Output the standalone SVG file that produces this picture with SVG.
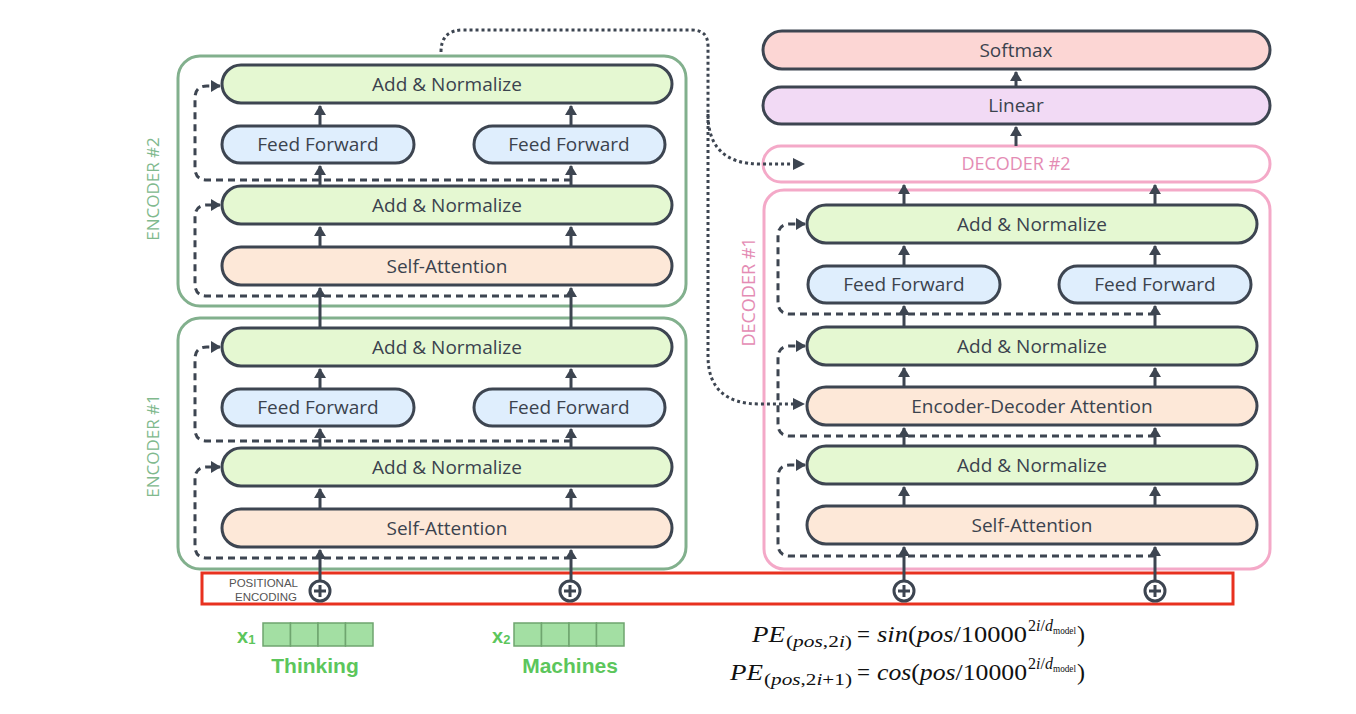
<svg xmlns="http://www.w3.org/2000/svg" width="1356" height="714" viewBox="0 0 1356 714">
<defs>
<style>
.n{stroke:#3d4551;stroke-width:3}
.an{fill:#e5f8d2}
.ff{fill:#dfeefd}
.sa{fill:#fde8d8}
.t{font-family:"Open Sans","Liberation Sans",sans-serif;font-size:19px;font-weight:500;fill:#3b434e;text-anchor:middle}
.enc{fill:none;stroke:#82b08d;stroke-width:3}
.dec{fill:none;stroke:#f4a9c8;stroke-width:3}
.encl{font-family:"Open Sans","Liberation Sans",sans-serif;font-size:17px;font-weight:500;fill:#80b98d;text-anchor:middle}
.decl{font-family:"Open Sans","Liberation Sans",sans-serif;font-size:18px;font-weight:500;fill:#e48cb4;text-anchor:middle}
.ar{stroke:#3d4551;stroke-width:3;fill:none;marker-end:url(#ah)}
.ds{stroke:#3d4551;stroke-width:3;fill:none;stroke-dasharray:7 5;marker-end:url(#ah)}
.dt{stroke:#3d4551;stroke-width:3;fill:none;stroke-dasharray:3 3}
.pl{fill:#fff;stroke:#3d4551;stroke-width:3}
.m{font-family:"Liberation Serif","DejaVu Serif",serif;font-size:24px;fill:#111}
.s{font-family:"Liberation Serif","DejaVu Serif",serif;font-size:17px;fill:#111}
.ss{font-family:"Liberation Serif","DejaVu Serif",serif;font-size:10px;fill:#111}
.i{font-style:italic}
.cell{fill:#a3dfa3;stroke:#6fa56f;stroke-width:1.5}
.g{font-family:"Liberation Sans",Arial,sans-serif;font-weight:bold;fill:#5cc65c}
.pe{font-family:"Liberation Sans",Arial,sans-serif;font-size:11.5px;fill:#555;text-anchor:end}
</style>
<marker id="ah" viewBox="0 0 10 12" refX="9" refY="6" markerWidth="10" markerHeight="12" orient="auto" markerUnits="userSpaceOnUse">
<path d="M0,0 L10,6 L0,12 z" fill="#3d4551"/>
</marker>
</defs>
<rect width="1356" height="714" fill="#fff"/>

<!-- Encoder 2 -->
<g id="encoder2">
<rect class="enc" x="178" y="56" width="508" height="250" rx="22"/>
<text class="encl" transform="translate(159,189) rotate(-90)">ENCODER #2</text>
</g>
<g id="e2-addnorm2"><rect class="n an" x="222" y="65" width="450" height="38" rx="19"/><text class="t" x="447" y="91">Add &amp; Normalize</text></g>
<g id="e2-ff1"><rect class="n ff" x="222" y="126" width="192" height="37" rx="18.5"/><text class="t" x="318" y="151">Feed Forward</text></g>
<g id="e2-ff2"><rect class="n ff" x="474" y="126" width="191" height="37" rx="18.5"/><text class="t" x="569" y="151">Feed Forward</text></g>
<g id="e2-addnorm1"><rect class="n an" x="222" y="186" width="450" height="38" rx="19"/><text class="t" x="447" y="212">Add &amp; Normalize</text></g>
<g id="e2-selfatt"><rect class="n sa" x="222" y="247" width="450" height="38" rx="19"/><text class="t" x="447" y="273">Self-Attention</text></g>

<!-- Encoder 1 -->
<g id="encoder1">
<rect class="enc" x="178" y="318" width="508" height="251" rx="22"/>
<text class="encl" transform="translate(159,446) rotate(-90)">ENCODER #1</text>
</g>
<g id="e1-addnorm2"><rect class="n an" x="222" y="328" width="450" height="38" rx="19"/><text class="t" x="447" y="354">Add &amp; Normalize</text></g>
<g id="e1-ff1"><rect class="n ff" x="222" y="389" width="192" height="37" rx="18.5"/><text class="t" x="318" y="414">Feed Forward</text></g>
<g id="e1-ff2"><rect class="n ff" x="474" y="389" width="191" height="37" rx="18.5"/><text class="t" x="569" y="414">Feed Forward</text></g>
<g id="e1-addnorm1"><rect class="n an" x="222" y="448" width="450" height="38" rx="19"/><text class="t" x="447" y="474">Add &amp; Normalize</text></g>
<g id="e1-selfatt"><rect class="n sa" x="222" y="509" width="450" height="38" rx="19"/><text class="t" x="447" y="535">Self-Attention</text></g>

<!-- Decoder side -->
<g id="softmax"><rect class="n" fill="#fcd6d4" x="763" y="31" width="507" height="38" rx="19"/><text class="t" x="1016" y="57">Softmax</text></g>
<g id="linear"><rect class="n" fill="#f2daf5" x="763" y="87" width="507" height="37" rx="18.5"/><text class="t" x="1016" y="112">Linear</text></g>
<g id="decoder2"><rect class="dec" fill="#fff" x="763" y="146" width="507" height="36" rx="18"/><text class="decl" x="1016" y="170">DECODER #2</text></g>
<g id="decoder1">
<rect class="dec" x="764" y="190" width="506" height="379" rx="20"/>
<text class="decl" transform="translate(755,292) rotate(-90)">DECODER #1</text>
</g>
<g id="d1-addnorm3"><rect class="n an" x="807" y="205" width="450" height="38" rx="19"/><text class="t" x="1032" y="231">Add &amp; Normalize</text></g>
<g id="d1-ff1"><rect class="n ff" x="808" y="266" width="192" height="37" rx="18.5"/><text class="t" x="904" y="291">Feed Forward</text></g>
<g id="d1-ff2"><rect class="n ff" x="1059" y="266" width="192" height="37" rx="18.5"/><text class="t" x="1155" y="291">Feed Forward</text></g>
<g id="d1-addnorm2"><rect class="n an" x="807" y="327" width="450" height="38" rx="19"/><text class="t" x="1032" y="353">Add &amp; Normalize</text></g>
<g id="d1-encdec"><rect class="n sa" x="807" y="387" width="450" height="38" rx="19"/><text class="t" x="1032" y="413">Encoder-Decoder Attention</text></g>
<g id="d1-addnorm1"><rect class="n an" x="807" y="446" width="450" height="38" rx="19"/><text class="t" x="1032" y="472">Add &amp; Normalize</text></g>
<g id="d1-selfatt"><rect class="n sa" x="807" y="506" width="450" height="38" rx="19"/><text class="t" x="1032" y="532">Self-Attention</text></g>

<!-- Positional encoding -->
<g id="positional-encoding">
<rect x="202" y="573" width="1031" height="31" fill="none" stroke="#e8311f" stroke-width="3"/>
<text class="pe" x="298" y="587">POSITIONAL</text>
<text class="pe" x="297" y="601">ENCODING</text>
<circle class="pl" cx="320" cy="591" r="10"/><path d="M314,591h12M320,585v12" stroke="#3d4551" stroke-width="3"/>
<circle class="pl" cx="570" cy="591" r="10"/><path d="M564,591h12M570,585v12" stroke="#3d4551" stroke-width="3"/>
<circle class="pl" cx="904" cy="591" r="10"/><path d="M898,591h12M904,585v12" stroke="#3d4551" stroke-width="3"/>
<circle class="pl" cx="1155" cy="591" r="10"/><path d="M1149,591h12M1155,585v12" stroke="#3d4551" stroke-width="3"/>
</g>

<!-- Inputs -->
<g id="input-x1">
<text class="g" x="237" y="643" font-size="20">x<tspan font-size="13" dy="1">1</tspan></text>
<rect class="cell" x="263" y="623" width="27.5" height="23"/><rect class="cell" x="290.5" y="623" width="27.5" height="23"/><rect class="cell" x="318" y="623" width="27.5" height="23"/><rect class="cell" x="345.5" y="623" width="27.5" height="23"/>
<text class="g" x="315" y="673" font-size="21" text-anchor="middle">Thinking</text>
</g>
<g id="input-x2">
<text class="g" x="492" y="643" font-size="20">x<tspan font-size="13" dy="1">2</tspan></text>
<rect class="cell" x="514" y="623" width="27.5" height="23"/><rect class="cell" x="541.5" y="623" width="27.5" height="23"/><rect class="cell" x="569" y="623" width="27.5" height="23"/><rect class="cell" x="596.5" y="623" width="27.5" height="23"/>
<text class="g" x="570" y="673" font-size="21" text-anchor="middle">Machines</text>
</g>

<!-- Formula -->
<g id="formula">
<text class="m i" x="752" y="642" textLength="33" lengthAdjust="spacingAndGlyphs">PE</text>
<text class="s" x="786" y="647" textLength="66" lengthAdjust="spacingAndGlyphs">(<tspan class="i">pos</tspan>,2<tspan class="i">i</tspan>)</text>
<text class="m" x="857" y="642" textLength="13" lengthAdjust="spacingAndGlyphs">=</text>
<text class="m" x="877" y="642" textLength="150" lengthAdjust="spacingAndGlyphs"><tspan class="i">sin</tspan>(<tspan class="i">pos</tspan>/10000</text>
<text class="s" x="1028" y="631" textLength="25" lengthAdjust="spacingAndGlyphs">2<tspan class="i">i</tspan>/<tspan class="i">d</tspan></text>
<text class="ss" x="1053" y="634" textLength="23" lengthAdjust="spacingAndGlyphs">model</text>
<text class="m" x="1077" y="642">)</text>

<text class="m i" x="730" y="680" textLength="33" lengthAdjust="spacingAndGlyphs">PE</text>
<text class="s" x="764" y="685" textLength="88" lengthAdjust="spacingAndGlyphs">(<tspan class="i">pos</tspan>,2<tspan class="i">i</tspan>+1)</text>
<text class="m" x="857" y="680" textLength="13" lengthAdjust="spacingAndGlyphs">=</text>
<text class="m" x="877" y="680" textLength="150" lengthAdjust="spacingAndGlyphs"><tspan class="i">cos</tspan>(<tspan class="i">pos</tspan>/10000</text>
<text class="s" x="1028" y="669" textLength="25" lengthAdjust="spacingAndGlyphs">2<tspan class="i">i</tspan>/<tspan class="i">d</tspan></text>
<text class="ss" x="1053" y="672" textLength="23" lengthAdjust="spacingAndGlyphs">model</text>
<text class="m" x="1077" y="680">)</text>
</g>

<!-- Connectors -->
<g id="connectors">
<!-- encoder solid arrows -->
<path class="ar" d="M320,581V550"/><path class="ar" d="M571,581V550"/>
<path class="ar" d="M320,509V489"/><path class="ar" d="M571,509V489"/>
<path class="ar" d="M320,448V429"/><path class="ar" d="M571,448V429"/>
<path class="ar" d="M320,389V369"/><path class="ar" d="M571,389V369"/>
<path class="ar" d="M320,328V288"/><path class="ar" d="M571,328V288"/>
<path class="ar" d="M320,247V227"/><path class="ar" d="M571,247V227"/>
<path class="ar" d="M320,186V166"/><path class="ar" d="M571,186V166"/>
<path class="ar" d="M320,126V106"/><path class="ar" d="M571,126V106"/>
<!-- encoder residuals -->
<path class="ds" d="M571,558H207Q195,558 195,546V479Q195,467 207,467H220"/>
<path class="ds" d="M571,441H207Q195,441 195,429V359Q195,347 207,347H220"/>
<path class="ds" d="M571,296H207Q195,296 195,284V217Q195,205 207,205H220"/>
<path class="ds" d="M571,180H207Q195,180 195,168V98Q195,86 207,86H220"/>
<!-- decoder solid arrows -->
<path class="ar" d="M904,581V547"/><path class="ar" d="M1155,581V547"/>
<path class="ar" d="M904,506V487"/><path class="ar" d="M1155,506V487"/>
<path class="ar" d="M904,446V428"/><path class="ar" d="M1155,446V428"/>
<path class="ar" d="M904,387V368"/><path class="ar" d="M1155,387V368"/>
<path class="ar" d="M904,327V306"/><path class="ar" d="M1155,327V306"/>
<path class="ar" d="M904,266V246"/><path class="ar" d="M1155,266V246"/>
<path class="ar" d="M904,205V185"/><path class="ar" d="M1155,205V185"/>
<path class="ar" d="M1016,146V127"/>
<path class="ar" d="M1016,87V72"/>
<!-- decoder residuals -->
<path class="ds" d="M1155,556H790Q778,556 778,544V477Q778,465 790,465H805"/>
<path class="ds" d="M1155,436H790Q778,436 778,424V358Q778,346 790,346H805"/>
<path class="ds" d="M1155,314H790Q778,314 778,302V236Q778,224 790,224H805"/>
<!-- encoder output to decoders (dotted) -->
<path class="dt" d="M441,52Q441,30 463,30H692Q708,30 708,46V114Q708,164 760,164H793"/>
<path class="dt" d="M708,114V356Q708,404 760,404H793"/>
<path d="M793,158L805,164L793,170z" fill="#3d4551"/>
<path d="M793,398L805,404L793,410z" fill="#3d4551"/>
</g>
</svg>
